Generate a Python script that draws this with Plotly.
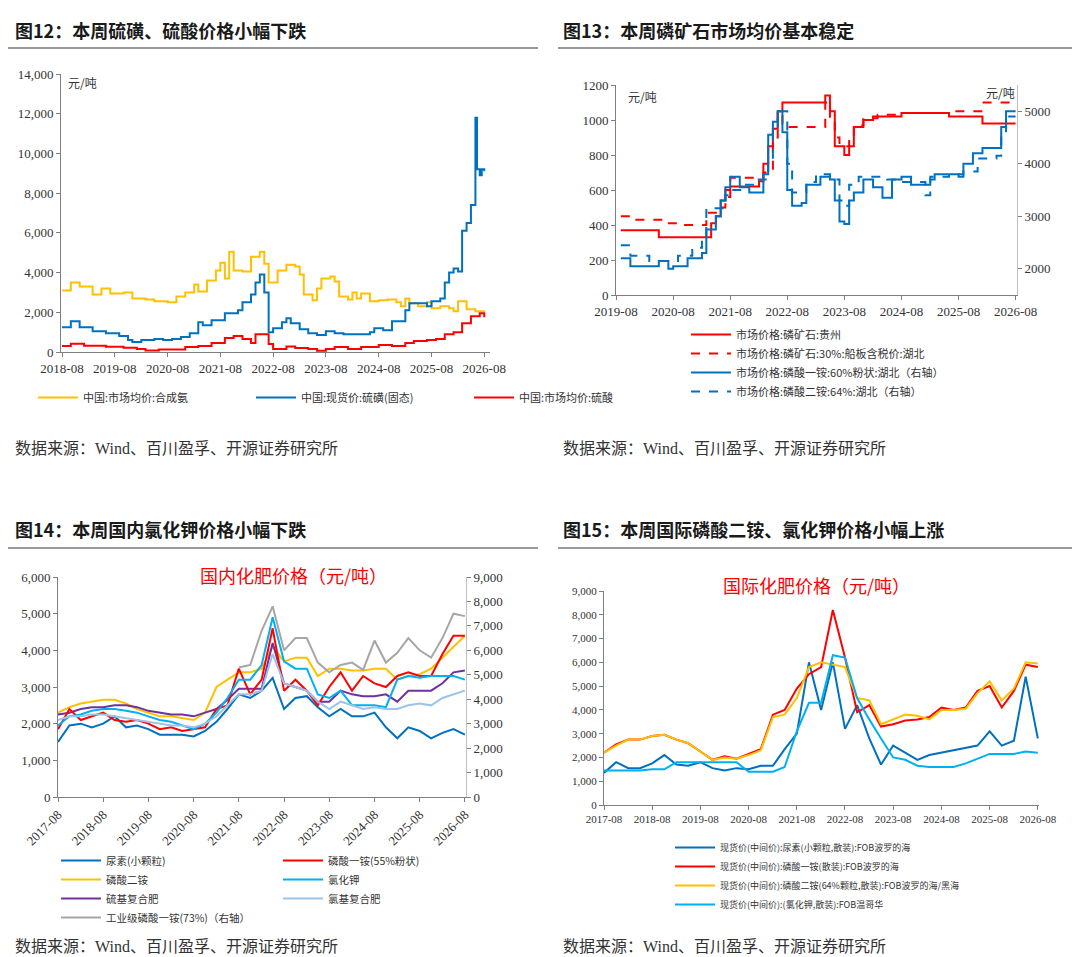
import plotly.graph_objects as go

W, H = 1080, 957
BLUE, RED, YEL, CYAN = "#0070C0", "#FF0000", "#FFC000", "#00B0F0"
PURP, LBLUE, GRAY = "#7030A0", "#9DC3E6", "#A6A6A6"
NUMF = "Liberation Serif, Noto Sans CJK SC"
CJK = "Noto Sans CJK SC"

# ---------- 图12 ----------
nh3_d = ["2018-08","2018-10","2018-12","2019-03","2019-05","2019-07","2019-10","2019-12","2020-03","2020-05","2020-08","2020-10","2020-12","2021-02","2021-03","2021-05","2021-07","2021-08","2021-09","2021-10","2021-11","2022-01","2022-03","2022-05","2022-06","2022-07","2022-09","2022-11","2023-01","2023-02","2023-03","2023-05","2023-06","2023-07","2023-09","2023-10","2023-11","2024-01","2024-02","2024-03","2024-04","2024-06","2024-08","2024-10","2024-12","2025-01","2025-02","2025-03","2025-05","2025-07","2025-08","2025-10","2025-12","2026-01","2026-02","2026-04","2026-06","2026-08"]
nh3_v = [3100,3500,3300,2900,3200,2950,3000,2700,2650,2550,2500,2800,3000,3400,3050,3600,4100,4500,3700,5050,4100,4050,4800,5050,4450,3500,4100,4400,4300,3900,2900,2600,3200,3700,3800,3550,2800,2650,3000,2700,2950,2550,2600,2650,2500,2300,2700,2450,2300,2500,2200,2300,2200,2050,2550,2150,2050,2100]
s_d = ["2018-08","2018-10","2018-12","2019-03","2019-06","2019-09","2019-11","2019-12","2020-02","2020-05","2020-07","2020-09","2020-11","2021-01","2021-03","2021-04","2021-06","2021-09","2021-12","2022-01","2022-03","2022-04","2022-05","2022-06","2022-07","2022-08","2022-10","2022-11","2022-12","2023-02","2023-04","2023-06","2023-08","2023-10","2023-12","2024-03","2024-06","2024-07","2024-09","2024-11","2025-02","2025-03","2025-05","2025-07","2025-08","2025-10","2025-11","2025-12","2026-01","2026-02","2026-03","2026-04","2026-05","2026-06","2026-06-12","2026-07","2026-07-15","2026-08"]
s_v = [1250,1550,1250,1050,950,800,600,500,600,650,600,650,750,950,1500,1350,1600,1950,2100,2500,2900,3500,3900,3000,1000,1200,1500,1700,1450,1150,950,850,1050,950,900,900,1000,1200,1100,1550,2100,2450,2450,2300,2550,2700,3500,4000,4200,4050,6100,6500,7400,11800,9200,8900,9200,9100]
h2so4_d = ["2018-08","2018-10","2019-01","2019-06","2019-10","2020-01","2020-03","2020-06","2020-09","2020-12","2021-03","2021-06","2021-09","2021-11","2022-01","2022-03","2022-04","2022-06","2022-07","2022-08","2022-11","2023-01","2023-04","2023-06","2023-08","2023-10","2024-01","2024-04","2024-08","2024-11","2025-02","2025-04","2025-07","2025-09","2025-11","2026-01","2026-03","2026-05","2026-07","2026-08"]
h2so4_v = [300,420,320,270,220,150,80,120,130,250,300,450,700,800,650,450,900,900,400,150,280,200,150,60,150,250,150,250,350,300,450,550,600,650,900,1000,1450,1800,1950,1750]

# ---------- 图13 ----------
gz_d = ["2019-09","2020-05","2021-02","2021-04","2021-05","2021-06","2021-07","2021-08","2022-01","2022-02","2022-03","2022-04","2022-05","2022-06","2022-07","2023-04","2023-05","2023-06","2023-08","2023-09","2023-10","2023-12","2024-02","2024-08","2025-06","2026-01","2026-08"]
gz_v = [370,330,330,410,450,540,600,620,620,650,750,850,950,1050,1100,1140,1050,850,800,850,960,1000,1020,1040,1020,980,980]
hb_d = ["2019-09","2019-11","2020-06","2020-09","2021-02","2021-03","2021-05","2021-07","2021-08","2022-03","2022-05","2022-06","2022-07","2022-08","2023-03","2023-04","2023-05","2023-06","2023-07","2023-09","2023-10","2023-12","2024-03","2024-08","2025-06","2026-01","2026-08"]
hb_v = [450,430,410,400,400,470,500,560,670,700,900,1050,980,960,960,1100,1000,900,850,880,970,1010,1030,1040,1050,1100,1100]
map60_d = ["2019-09","2019-11","2020-04","2020-05","2020-07","2020-08","2020-11","2021-02","2021-03","2021-05","2021-06","2021-07","2021-08","2021-10","2021-12","2022-03","2022-04","2022-05","2022-06","2022-07","2022-08","2022-09","2022-11","2022-12","2023-03","2023-05","2023-06","2023-07","2023-08","2023-09","2023-10","2023-12","2024-02","2024-04","2024-06","2024-08","2024-10","2025-02","2025-03","2025-08","2025-09","2025-11","2026-01","2026-05","2026-06","2026-08"]
map60_v = [2200,2050,2050,2150,2000,2050,2200,2300,2750,3000,3300,3550,3750,3550,3450,3800,4550,4800,5000,4600,3500,3200,3250,3600,3750,3700,3300,2900,2850,3300,3450,3700,3550,3350,3700,3750,3600,3700,3800,3750,4000,4200,4300,4700,5000,5000]
dap64_d = ["2019-09","2019-11","2020-03","2020-09","2020-12","2021-02","2021-03","2021-07","2021-08","2021-11","2022-01","2022-04","2022-05","2022-06","2022-08","2022-09","2022-12","2023-02","2023-05","2023-07","2023-08","2023-09","2023-11","2024-05","2024-08","2025-01","2025-02","2025-06","2025-09","2025-12","2026-04","2026-05","2026-06","2026-08"]
dap64_v = [2450,2250,2150,2250,2400,2600,3150,3400,3500,3600,3700,4000,4600,5000,4000,3450,3650,3800,3700,3300,3200,3600,3750,3700,3650,3400,3750,3800,3850,4100,4150,4500,4900,4900]

# ---------- 图14 / 图15 (quarterly) ----------
q_d = ["2017-08","2017-11","2018-02","2018-05","2018-08","2018-11","2019-02","2019-05","2019-08","2019-11","2020-02","2020-05","2020-08","2020-11","2021-02","2021-05","2021-08","2021-11","2022-02","2022-05","2022-08","2022-11","2023-02","2023-05","2023-08","2023-11","2024-02","2024-05","2024-08","2024-11","2025-02","2025-05","2025-08","2025-11","2026-02","2026-05","2026-08"]
urea = [1500,1950,2000,1900,2000,2200,1900,1950,1850,1700,1700,1700,1650,1800,2050,2400,2800,2700,2900,3250,2400,2700,2750,2450,2200,2400,2200,2200,2300,1900,1600,1900,1800,1600,1750,1850,1700]
map55 = [1850,2400,2100,2200,2300,2100,2050,2100,2000,1850,1900,1800,1850,1900,2400,2500,3500,2800,3200,4600,2900,3200,2900,2500,3000,3400,2900,3300,3100,3000,3300,3400,3300,3300,3900,4400,4400]
dap = [2300,2450,2550,2600,2650,2650,2550,2400,2300,2200,2200,2150,2100,2300,3000,3200,3400,3400,3500,4100,3700,3800,3800,3300,3500,3500,3450,3450,3500,3500,3200,3300,3350,3500,3800,4100,4400]
kcl = [1950,2200,2250,2350,2400,2400,2350,2300,2200,2100,2050,1950,1850,2000,2300,2700,3200,3200,3600,4900,3700,3500,3500,2800,2700,2900,2500,2500,2500,2450,3200,3300,3250,3300,3300,3300,3200]
npk_s = [2250,2300,2400,2450,2450,2500,2500,2450,2350,2300,2250,2250,2200,2300,2400,2650,2950,2950,2950,4200,3100,3000,2900,2600,2600,2900,2800,2750,2750,2800,2600,2900,2900,2900,3100,3400,3450]
npk_cl = [2100,2200,2200,2250,2250,2200,2150,2100,2050,2000,1950,1950,1900,2000,2200,2500,2800,2800,2900,3900,3100,3000,2900,2600,2400,2600,2500,2400,2450,2400,2400,2500,2550,2500,2700,2800,2900]
map73 = [None]*16 + [5300,5400,6800,7800,6000,6500,6500,5500,5100,5400,5500,5200,6400,5500,5900,6500,6000,5700,6500,7500,7400]

urea_fob = [1350,1800,1550,1550,1750,2100,1700,1650,1800,1550,1450,1550,1500,1650,1650,2350,3000,6000,4000,6000,3200,4200,2800,1700,2500,2200,1900,2100,2200,2300,2400,2500,3100,2500,2700,5400,2800]
map_fob = [2200,2550,2750,2750,2900,2950,2750,2600,2250,1900,2050,1950,2150,2350,3800,4000,4900,5500,5800,8200,6200,3900,4200,3300,3400,3550,3600,3700,4100,4000,4100,4800,5000,4100,4800,5900,5800]
dap_fob = [2200,2500,2750,2750,2900,2950,2750,2600,2250,1900,2000,1950,2100,2300,3700,3800,4500,5800,6000,5900,5800,4500,4400,3400,3600,3800,3750,3600,4000,4000,4050,4700,5200,4400,4900,6000,5950]
kcl_fob = [1450,1450,1450,1450,1500,1500,1800,1800,1800,1800,1800,1800,1400,1400,1400,1600,3100,4300,4300,6300,6200,4500,3600,2800,2000,1900,1650,1600,1600,1600,1750,1950,2150,2150,2150,2250,2200]


def fx(p):
    return p / W


def fy(p):
    return 1 - p / H


fig = go.Figure()


def add(x, y, name, color, xa, ya, legend, dash="solid", shape="linear"):
    fig.add_trace(go.Scatter(x=x, y=y, name=name, mode="lines", xaxis=xa, yaxis=ya,
                             legend=legend, line=dict(color=color, width=2, dash=dash, shape=shape)))


add(nh3_d, nh3_v, "中国:市场均价:合成氨", YEL, "x", "y", "legend", shape="hv")
add(s_d, s_v, "中国:现货价:硫磺(固态)", BLUE, "x", "y", "legend", shape="hv")
add(h2so4_d, h2so4_v, "中国:市场均价:硫酸", RED, "x", "y", "legend", shape="hv")

add(gz_d, gz_v, "市场价格:磷矿石:贵州", RED, "x2", "y2", "legend2", shape="hv")
add(hb_d, hb_v, "市场价格:磷矿石:30%:船板含税价:湖北", RED, "x2", "y2", "legend2", dash="dash", shape="hv")
add(map60_d, map60_v, "市场价格:磷酸一铵:60%粉状:湖北（右轴）", BLUE, "x2", "y3", "legend2", shape="hv")
add(dap64_d, dap64_v, "市场价格:磷酸二铵:64%:湖北（右轴）", BLUE, "x2", "y3", "legend2", dash="dash", shape="hv")

add(q_d, urea, "尿素(小颗粒)", BLUE, "x3", "y4", "legend3")
add(q_d, dap, "磷酸二铵", YEL, "x3", "y4", "legend3")
add(q_d, npk_s, "硫基复合肥", PURP, "x3", "y4", "legend3")
add(q_d, map73, "工业级磷酸一铵(73%)（右轴）", GRAY, "x3", "y5", "legend3")
add(q_d, map55, "磷酸一铵(55%粉状)", RED, "x3", "y4", "legend4")
add(q_d, kcl, "氯化钾", CYAN, "x3", "y4", "legend4")
add(q_d, npk_cl, "氯基复合肥", LBLUE, "x3", "y4", "legend4")

add(q_d, urea_fob, "现货价(中间价):尿素(小颗粒,散装):FOB波罗的海", BLUE, "x4", "y6", "legend5")
add(q_d, map_fob, "现货价(中间价):磷酸一铵(散装):FOB波罗的海", RED, "x4", "y6", "legend5")
add(q_d, dap_fob, "现货价(中间价):磷酸二铵(64%颗粒,散装):FOB波罗的海/黑海", YEL, "x4", "y6", "legend5")
add(q_d, kcl_fob, "现货价(中间价):(氯化钾,散装):FOB温哥华", CYAN, "x4", "y6", "legend5")

ax = dict(showline=True, linecolor="#7f7f7f", ticks="outside", ticklen=4, tickcolor="#7f7f7f", automargin=False,
          showgrid=False, zeroline=False, tickfont=dict(family=NUMF, size=13, color="#333"))
xax = dict(ax, type="date", tickformat="%Y-%m", dtick="M12")
small = dict(family=NUMF, size=11, color="#333")

fig.update_layout(
    width=W, height=H, margin=dict(l=0, r=0, t=0, b=0, autoexpand=False),
    paper_bgcolor="white", plot_bgcolor="white", font=dict(family=CJK, color="#333"),
    xaxis=dict(xax, domain=[fx(53), fx(482)], anchor="y", range=["2018-07-25", "2026-09-10"], tick0="2018-08-01"),
    yaxis=dict(ax, domain=[fy(344), fy(66)], anchor="x", range=[0, 14000], dtick=2000, tickformat=",d"),
    xaxis2=dict(xax, domain=[fx(608), fx(1009)], anchor="y2", range=["2019-08-01", "2026-08-10"], tick0="2019-08-01"),
    yaxis2=dict(ax, domain=[fy(287), fy(77)], anchor="x2", range=[0, 1200], dtick=200),
    yaxis3=dict(ax, overlaying="y2", side="right", anchor="x2", range=[1500, 5500], dtick=1000, linecolor="#bfbfbf"),
    xaxis3=dict(xax, domain=[fx(50), fx(458)], anchor="y4", range=["2017-08-01", "2026-08-10"], tick0="2017-08-01", tickangle=-45),
    yaxis4=dict(ax, domain=[fy(789), fy(569)], anchor="x3", range=[0, 6000], dtick=1000, tickformat=",d"),
    yaxis5=dict(ax, overlaying="y4", side="right", anchor="x3", range=[0, 9000], dtick=1000, tickformat=",d", linecolor="#bfbfbf"),
    xaxis4=dict(xax, domain=[fx(596), fx(1031)], anchor="y6", range=["2017-08-01", "2026-08-10"], tick0="2017-08-01", tickfont=small),
    yaxis6=dict(ax, domain=[fy(797), fy(583)], anchor="x4", range=[0, 9000], dtick=1000, tickformat=",d", tickfont=small),
)

lg = dict(font=dict(size=11, family=CJK, color="#333"), bgcolor="rgba(0,0,0,0)", itemwidth=40, tracegroupgap=0)
fig.update_layout(
    legend=dict(lg, orientation="h", x=fx(25), y=fy(375), xanchor="left", yanchor="top", entrywidth=163),
    legend2=dict(lg, x=fx(678), y=fy(312), xanchor="left", yanchor="top", font=dict(size=11, family=CJK, color="#333")),
    legend3=dict(lg, x=fx(48), y=fy(838), xanchor="left", yanchor="top", font=dict(size=10.5, family=CJK, color="#333")),
    legend4=dict(lg, x=fx(270), y=fy(838), xanchor="left", yanchor="top", font=dict(size=10.5, family=CJK, color="#333")),
    legend5=dict(lg, x=fx(662), y=fy(825), xanchor="left", yanchor="top", font=dict(size=9, family=CJK, color="#333")),
)

titles = [("图12：本周硫磺、硫酸价格小幅下跌", 5, 22), ("图13：本周磷矿石市场均价基本稳定", 553, 22),
          ("图14：本周国内氯化钾价格小幅下跌", 5, 521), ("图15：本周国际磷酸二铵、氯化钾价格小幅上涨", 553, 521)]
for t, x, y in titles:
    fig.add_annotation(text="<b>" + t + "</b>", x=fx(x), y=fy(y), xref="paper", yref="paper",
                       xanchor="left", yanchor="middle", showarrow=False, font=dict(size=18, color="#1a1a1a"))
for x0, x1, y in [(0, 530, 40), (550, 1080, 40), (0, 530, 540), (550, 1080, 540)]:
    fig.add_shape(type="line", xref="paper", yref="paper", x0=fx(x0), x1=fx(x1), y0=fy(y), y1=fy(y),
                  line=dict(color="#333", width=1.2))
for x, y in [(5, 440), (553, 440), (5, 938), (553, 938)]:
    fig.add_annotation(text="数据来源：Wind、百川盈孚、开源证券研究所", x=fx(x), y=fy(y), xref="paper", yref="paper",
                       xanchor="left", yanchor="middle", showarrow=False, font=dict(size=16, family=NUMF + ", " + CJK, color="#333"))
for t, x, y in [("元/吨", 58, 75), ("元/吨", 618, 88), ("元/吨", 976, 85)]:
    fig.add_annotation(text=t, x=fx(x), y=fy(y), xref="paper", yref="paper", xanchor="left", yanchor="middle",
                       showarrow=False, font=dict(size=12, color="#333"))
for t, x, y in [("国内化肥价格（元/吨）", 285, 567), ("国际化肥价格（元/吨）", 808, 577)]:
    fig.add_annotation(text=t, x=fx(x), y=fy(y), xref="paper", yref="paper", xanchor="center", yanchor="middle",
                       showarrow=False, font=dict(size=18, color=RED))

fig.write_html("out.html")
